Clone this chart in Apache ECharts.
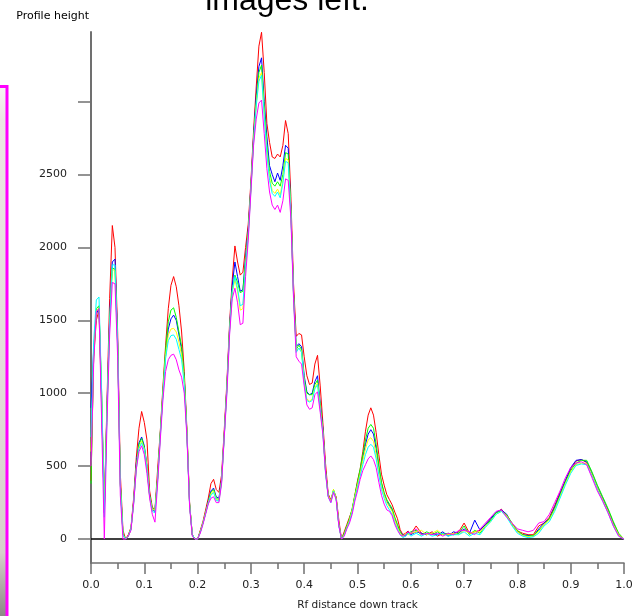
<!DOCTYPE html>
<html>
<head>
<meta charset="utf-8">
<script src="https://cdn.jsdelivr.net/npm/echarts@6/dist/echarts.min.js"></script>
<style>html,body{margin:0;padding:0;background:#fff;}#c{width:642px;height:616px;}</style>
</head>
<body>
<div id="c"></div>
<script>
const xs = [0,0.005,0.01,0.015,0.02,0.025,0.03,0.035,0.04,0.045,0.05,0.055,0.06,0.065,0.07,0.075,0.08,0.085,0.09,0.095,
0.1,0.105,0.11,0.115,0.12,0.125,0.13,0.135,0.14,0.145,0.15,0.155,0.16,0.165,0.17,0.175,0.18,0.185,0.19,0.195,
0.2,0.205,0.21,0.215,0.22,0.225,0.23,0.235,0.24,0.245,0.25,0.255,0.26,0.265,0.27,0.275,0.28,0.285,0.29,0.295,
0.3,0.305,0.31,0.315,0.32,0.325,0.33,0.335,0.34,0.345,0.35,0.355,0.36,0.365,0.37,0.375,0.38,0.385,0.39,0.395,
0.4,0.405,0.41,0.415,0.42,0.425,0.43,0.435,0.44,0.445,0.45,0.455,0.46,0.465,0.47,0.475,0.48,0.485,0.49,0.495,
0.5,0.505,0.51,0.515,0.52,0.525,0.53,0.535,0.54,0.545,0.55,0.555,0.56,0.565,0.57,0.575,0.58,0.585,0.59,0.595,
0.6,
0.61,0.62,0.63,0.64,0.65,0.66,0.67,0.68,0.69,0.7,
0.71,0.72,0.73,0.74,0.75,0.76,0.77,0.78,0.79,0.8,
0.81,0.82,0.83,0.84,0.85,0.86,0.87,0.88,0.89,0.9,
0.91,0.92,0.93,0.94,0.95,0.96,0.97,0.98,0.99,1];

const red = [
400,1250,1500,1570,900,200,950,1650,2150,2000,
1420,450,60,0,30,80,280,560,760,875,
800,680,330,220,200,480,740,1050,1330,1580,
1740,1800,1730,1600,1420,1150,750,250,30,0,
0,60,120,200,280,380,410,340,320,440,
750,1080,1480,1780,2010,1900,1810,1830,2000,2160,
2450,2800,3100,3380,3475,3200,2850,2720,2620,2610,
2640,2620,2700,2870,2780,2350,1750,1390,1410,1400,
1250,1120,1060,1070,1200,1260,1050,800,520,310,
270,330,290,130,0,50,100,150,200,300,
400,480,600,740,850,900,850,730,580,445,
370,305,270,235,185,140,65,30,40,55,
35,
90,40,30,50,20,40,30,40,50,110,
40,50,60,100,140,180,205,160,100,55,
40,30,30,90,110,150,230,320,400,480,
535,545,525,440,350,270,200,110,30,0];

const blue = [
900,1300,1540,1590,950,180,900,1520,1900,1920,
1350,380,30,0,20,70,260,520,660,700,
640,500,300,200,190,420,720,1000,1260,1440,
1510,1536,1500,1400,1300,1100,720,240,30,0,
0,50,110,180,260,330,350,290,280,410,
720,1050,1450,1740,1900,1800,1700,1710,1930,2120,
2420,2760,3040,3240,3300,3000,2760,2560,2500,2450,
2510,2460,2560,2700,2680,2260,1690,1320,1340,1320,
1120,1010,990,1000,1080,1120,930,760,470,300,
260,330,280,100,0,30,80,130,200,290,
380,460,560,650,720,750,720,620,490,380,
310,260,230,200,140,90,50,30,20,50,
30,
50,40,30,40,30,50,20,50,40,70,
40,130,60,100,140,185,200,170,100,50,
30,25,20,70,110,140,220,310,400,490,
540,545,530,450,360,280,200,110,30,0];

const green = [
380,1250,1580,1600,1000,220,880,1480,1860,1850,
1330,380,40,0,20,70,250,500,650,690,
630,500,300,210,200,420,730,1020,1300,1490,
1570,1586,1520,1420,1320,1110,730,240,30,0,
0,50,110,180,250,320,340,280,270,400,
710,1040,1440,1700,1810,1760,1690,1700,1910,2100,
2410,2740,3000,3200,3250,2960,2700,2520,2440,2420,
2450,2420,2500,2650,2640,2250,1680,1300,1330,1300,
1100,1000,990,990,1060,1090,920,750,470,300,
260,340,280,100,0,40,90,140,210,300,
390,480,580,680,760,786,760,650,510,390,
320,270,240,210,150,100,50,20,30,40,
50,
60,30,50,30,50,30,40,30,40,90,
30,60,40,90,130,180,195,165,110,60,
30,20,25,60,100,140,210,300,390,470,
520,540,540,460,370,290,210,120,40,0];

const yellow = [
600,1280,1560,1590,980,200,870,1470,1850,1840,
1320,370,30,0,20,70,250,490,630,670,
620,490,290,200,200,410,710,1000,1260,1400,
1440,1445,1420,1350,1260,1080,720,240,30,0,
0,50,110,180,250,310,330,270,265,395,
710,1030,1430,1690,1780,1700,1570,1580,1880,2090,
2400,2730,2980,3160,3200,2920,2660,2480,2390,2370,
2400,2360,2460,2610,2600,2240,1670,1290,1310,1290,
1080,960,946,960,1040,1070,900,740,460,300,
260,340,280,100,0,30,80,130,200,290,
370,450,540,620,680,695,670,580,460,360,
300,250,220,190,130,80,40,20,40,30,
40,
50,60,30,40,60,30,30,40,30,60,
40,50,50,90,120,170,190,160,100,50,
25,15,20,50,100,130,200,290,380,460,
510,520,520,440,350,270,190,100,30,0];

const cyan = [
700,1350,1640,1660,1000,150,850,1480,1880,1880,
1340,360,30,0,20,70,240,480,620,660,
610,480,290,190,180,400,700,990,1240,1360,
1395,1400,1370,1300,1230,1060,710,230,30,0,
0,45,105,175,245,300,320,265,260,390,
700,1020,1420,1700,1800,1720,1600,1610,1870,2080,
2390,2720,2970,3140,3180,2900,2640,2460,2370,2350,
2380,2340,2440,2590,2580,2230,1660,1280,1310,1280,
1070,950,940,950,1030,1059,890,730,450,290,
250,330,270,90,0,25,75,120,185,275,
350,430,510,580,630,650,630,550,440,340,
280,230,200,170,110,70,30,10,20,40,
20,
40,20,40,20,30,40,20,30,30,50,
20,40,30,80,120,170,190,150,90,40,
20,10,15,40,90,120,190,280,370,450,
505,515,510,430,340,260,180,90,20,0];

const magenta = [
500,1200,1560,1580,800,0,800,1400,1760,1750,
1250,300,0,0,20,60,240,480,600,640,
580,450,280,170,116,380,680,960,1150,1230,
1260,1268,1230,1160,1110,1000,700,220,20,0,
0,40,100,170,240,280,290,250,250,380,
700,1000,1400,1650,1720,1620,1470,1480,1800,2050,
2380,2700,2880,2990,3010,2780,2540,2380,2290,2260,
2290,2240,2320,2470,2460,2200,1650,1250,1220,1200,
1050,920,890,900,990,1010,870,720,460,290,
250,320,270,90,0,20,70,110,170,260,
330,410,470,510,550,570,545,490,390,300,
240,200,190,160,100,60,30,20,30,50,
40,
70,30,40,30,40,20,40,30,60,60,
50,30,70,110,150,190,200,150,110,70,
60,50,60,110,120,170,250,330,420,490,
520,530,510,420,330,260,180,90,20,0];

const yTickValues = [0, 500, 1000, 1500, 2000, 2500, 3000];
const yLabelValues = [0, 500, 1000, 1500, 2000, 2500];

const seriesDefs = [
  {name: 'red', color: '#ff0000', vals: red},
  {name: 'blue', color: '#0000ff', vals: blue},
  {name: 'green', color: '#00ff00', vals: green},
  {name: 'yellow', color: '#ffff00', vals: yellow},
  {name: 'cyan', color: '#00ffff', vals: cyan},
  {name: 'magenta', color: '#ff00ff', vals: magenta}
];

const FONT = 'DejaVu Sans';
const AX = '#707070';

const series = seriesDefs.map((s, k) => {
  const o = {
    name: s.name, type: 'line', symbol: 'none', smooth: false,
    lineStyle: {color: s.color, width: 1},
    itemStyle: {color: s.color},
    data: xs.map((x, i) => [x, s.vals[i]]),
    z: 2 + k
  };
  if (k === seriesDefs.length - 1) {
    o.markLine = {
      silent: true, symbol: ['none', 'none'],
      label: {show: false},
      lineStyle: {color: '#000', width: 1.5, type: 'solid'},
      data: [{yAxis: 0}]
    };
  }
  return o;
});

const chart = echarts.init(document.getElementById('c'), null, {renderer: 'canvas'});
chart.setOption({
  animation: false,
  backgroundColor: '#ffffff',
  grid: {left: 91, right: 18, top: 32, bottom: 50, containLabel: false},
  xAxis: {
    type: 'value', min: 0, max: 1, interval: 0.1,
    axisLine: {onZero: false, lineStyle: {color: AX, width: 1.5}},
    axisTick: {length: 11, lineStyle: {color: AX, width: 1.5}},
    minorTick: {show: true, splitNumber: 2, length: 6, lineStyle: {color: AX, width: 1.5}},
    splitLine: {show: false},
    axisLabel: {formatter: v => v.toFixed(1), margin: 17, fontSize: 11, color: '#222', fontFamily: FONT},
    name: 'Rf distance down track', nameLocation: 'middle', nameGap: 37,
    nameTextStyle: {fontSize: 10.5, color: '#222', fontFamily: FONT}
  },
  yAxis: {
    type: 'value', min: -164, max: 3477,
    axisLine: {show: true, lineStyle: {color: AX, width: 2}},
    axisTick: {show: true, customValues: yTickValues, length: 13, lineStyle: {color: AX, width: 1.5}},
    axisLabel: {customValues: yLabelValues, formatter: v => String(Math.round(v)), margin: 24, fontSize: 11, color: '#222', fontFamily: FONT},
    splitLine: {show: false},
    name: 'Profile height', nameLocation: 'end', nameGap: 16,
    nameTextStyle: {align: 'right', verticalAlign: 'middle', fontSize: 11, color: '#000', fontFamily: FONT, padding: [0, 2, 0, 0]}
  },
  graphic: [
    {type: 'rect', silent: true, z: 0, shape: {x: 0, y: 88, width: 6, height: 528},
     style: {fill: new echarts.graphic.LinearGradient(0, 0, 0, 1, [
       {offset: 0, color: '#f6f4f2'}, {offset: 0.06, color: '#ebe6e2'},
       {offset: 0.5, color: '#e3ddd9'}, {offset: 0.88, color: '#d6d0ca'},
       {offset: 1, color: '#8c8886'}])}},
    {type: 'rect', silent: true, z: 1, shape: {x: -3, y: 86.5, width: 10, height: 545},
     style: {fill: 'none', stroke: '#ff00ff', lineWidth: 3}},
    {type: 'text', silent: true, x: 287, y: 1,
     style: {text: 'images left.', font: '32px "Liberation Sans"', fill: '#000', align: 'center', verticalAlign: 'middle'}}
  ],
  series: series
});
</script>
</body>
</html>
